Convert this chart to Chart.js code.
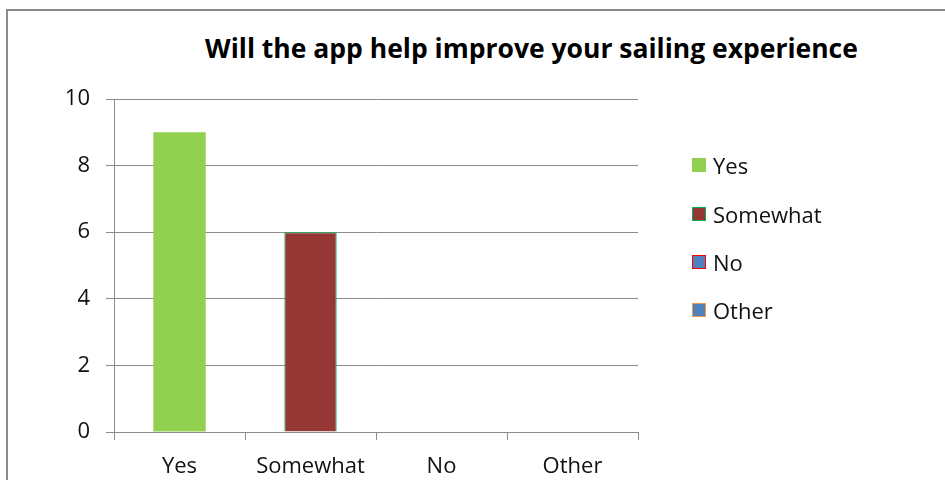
<!DOCTYPE html>
<html>
<head>
<meta charset="utf-8">
<title>Sailing app survey</title>
<script src="https://cdn.jsdelivr.net/npm/chart.js@4/dist/chart.umd.min.js"></script>
<style>
    body { margin: 0; background: #fff; overflow: hidden; }
    #wrap { position: relative; width: 945px; height: 480px; }
    /* cornice grigia del riquadro grafico (solo alto e sinistra visibili) */
    #frame {
        position: absolute; left: 6px; top: 9px; width: 1000px; height: 1000px;
        border: 2px solid #8c8c8c; box-sizing: border-box;
    }
    #chart { position: absolute; left: 0; top: 0; }
    #title {
        position: absolute; left: 118px; right: 0; top: 35px;
        font: bold 26.5px "Open Sans", sans-serif; line-height: 26.5px;
        text-align: center; color: #000; white-space: nowrap;
    }
    #legend {
        position: absolute; left: 692px; top: 141px; margin: 0; padding: 0;
        list-style: none; font: 22px "Open Sans", sans-serif; color: #111;
    }
    #legend li { display: flex; align-items: center; height: 48.4px; }
    #legend .box { width: 14px; height: 14px; box-sizing: border-box; border: 1px solid; margin-right: 7px; }
</style>
</head>
<body>
<div id="wrap">
    <div id="frame"></div>
    <div id="title">Will the app help improve your sailing experience</div>
    <canvas id="chart" width="945" height="480"></canvas>
    <ul id="legend"></ul>
</div>
<script>
// Risposte al sondaggio
const categories = ['Yes', 'Somewhat', 'No', 'Other'];
const responses  = [9, 6, 0, 0];

// Colori per categoria (riempimento / bordo)
const fillColors = ['#92d050', '#953735', '#4f81bd', '#4f81bd'];
const edgeColors = ['#92d050', '#00b050', '#ff0000', '#f79646'];

// Asse Y
const Y_MIN = 0;
const Y_MAX = 10;
const Y_STEP = 2;

const GRID = '#8c8c8c';
const TEXT = '#111';
const FONT = { family: '"Open Sans", sans-serif', size: 22 };

const chart = new Chart(document.getElementById('chart'), {
    type: 'bar',
    data: {
        labels: categories,
        datasets: [{
            data: responses,
            backgroundColor: fillColors,
            borderColor: edgeColors,
            // bordo solo dove ha un colore diverso dal riempimento e la barra esiste
            borderWidth: responses.map((v, i) => v > 0 && edgeColors[i] !== fillColors[i] ? 1 : 0),
            barPercentage: 0.4,
            categoryPercentage: 1.0
        }]
    },
    options: {
        responsive: false,
        animation: false,
        layout: { padding: { left: 58, right: 307, top: 99, bottom: 0 } },
        plugins: {
            legend: { display: false },   // legenda in HTML a destra
            title: { display: false },
            tooltip: { enabled: false }
        },
        scales: {
            x: {
                grid: { offset: true, drawOnChartArea: false, color: GRID, tickLength: 8 },
                border: { color: GRID },
                ticks: { color: TEXT, font: FONT, padding: 14, maxRotation: 0 },
                afterFit: s => { s.height = 48; }
            },
            y: {
                min: Y_MIN,
                max: Y_MAX,
                grid: { color: GRID, tickLength: 8 },
                border: { color: GRID },
                ticks: { stepSize: Y_STEP, color: TEXT, font: FONT, padding: 16 },
                afterFit: s => { s.width = 56; }
            }
        }
    }
});

// Legenda costruita dai dati del grafico
const legend = document.getElementById('legend');
chart.data.labels.forEach((label, i) => {
    const ds = chart.data.datasets[0];
    const li = document.createElement('li');
    const box = document.createElement('span');
    box.className = 'box';
    box.style.background = ds.backgroundColor[i];
    box.style.borderColor = ds.borderColor[i];
    li.appendChild(box);
    li.appendChild(document.createTextNode(label));
    legend.appendChild(li);
});
</script>
</body>
</html>
